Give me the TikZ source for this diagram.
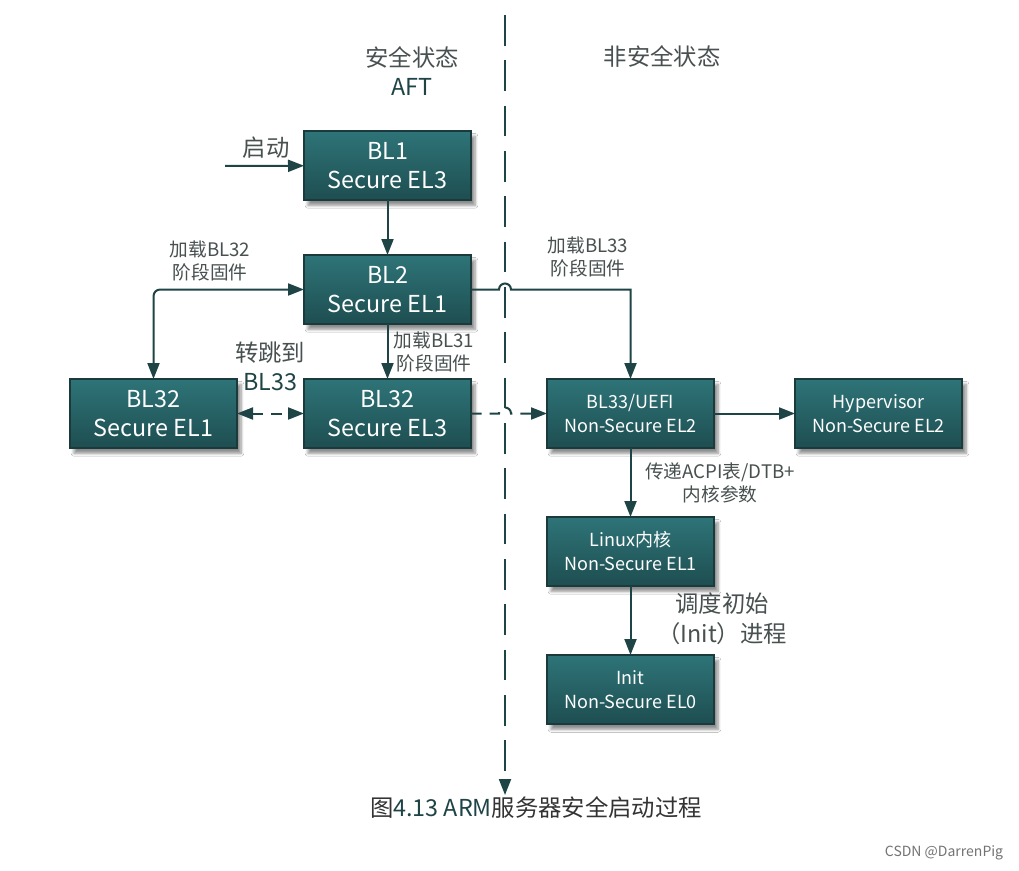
\documentclass[tikz,border=0pt]{standalone}
\usepackage{fontspec}
\setmainfont{Noto Sans CJK SC}
\usetikzlibrary{arrows.meta,positioning,calc,shadows.blur}
\definecolor{ARMTeal}{RGB}{46,116,120}
\definecolor{ARMTealDark}{RGB}{30,78,81}
\definecolor{ARMEdge}{RGB}{26,58,60}
\definecolor{ARMLine}{RGB}{30,68,70}
\definecolor{ARMText}{RGB}{72,80,80}
\tikzset{
  bbox/.style={draw=ARMEdge,line width=1.5pt,top color=ARMTeal,bottom color=ARMTealDark,minimum width=125.25pt,minimum height=51.75pt,inner sep=0pt,outer sep=0pt,align=center,text=white,font=\fontsize{17.5}{21.75}\selectfont,blur shadow={shadow xshift=3pt,shadow yshift=-4pt,shadow blur steps=6,shadow opacity=45}},
  sbox/.style={bbox,font=\fontsize{13.5}{18}\selectfont},
  lbl/.style={text=ARMText,align=center,inner sep=0pt,font=\fontsize{14}{17.25}\selectfont},
  blbl/.style={lbl,font=\fontsize{17.5}{21.75}\selectfont},
  arr/.style={-{Triangle[length=12pt,width=9pt]},ARMLine,line width=1.5pt},
  arrboth/.style={{Triangle[length=12pt,width=9pt]}-{Triangle[length=12pt,width=9pt]},ARMLine,line width=1.5pt},
  darr/.style={arr,dash pattern=on 8pt off 6pt},
  darrboth/.style={arrboth,dash pattern=on 8pt off 6pt},
  divline/.style={arr,dash pattern=on 23pt off 11pt},
}
\begin{document}
\begin{tikzpicture}[x=0.75pt,y=-0.75pt]
  \path[fill=white,use as bounding box] (0,0) rectangle (1019,870);
  % secure / non-secure divider
  \coordinate (divtop) at (505,15);
  \coordinate (divbot) at (505,795);
  \draw[divline] (divtop) -- (divbot);
  \node[blbl] (sec) at (412,71) {安全状态\\\textcolor{ARMLine}{AFT}};
  \node[blbl] (nsec) at (662,57) {非安全状态};
  % secure world
  \node[bbox] (bl1) at (387.5,165.5) {BL1\\Secure EL3};
  \node[bbox,below=41.25pt of bl1] (bl2) {BL2\\Secure EL1};
  \node[bbox,below=41.25pt of bl2] (bl32s) {BL32\\Secure EL3};
  \node[bbox,left=50.25pt of bl32s] (bl32n) {BL32\\Secure EL1};
  % non-secure world
  \node[sbox,right=57pt of bl32s] (uefi) {BL33/UEFI\\Non-Secure EL2};
  \node[sbox,right=60.75pt of uefi] (hyp) {Hypervisor\\Non-Secure EL2};
  \node[sbox,below=51.75pt of uefi] (linux) {Linux内核\\Non-Secure EL1};
  \node[sbox,below=51.75pt of linux] (init) {Init\\Non-Secure EL0};
  % labels
  \coordinate (start) at (225,166);
  \node[blbl] (boot) at (266,148) {启动};
  \node[lbl] (ld32) at (210,261) {加载BL32\\阶段固件};
  \node[lbl] (ld31) at (434,352) {加载BL31\\阶段固件};
  \node[blbl] (jump) at (270,366) {转跳到\\\textcolor{ARMLine}{BL33}};
  \node[lbl] (ld33) at (588,257) {加载BL33\\阶段固件};
  \node[lbl] (pass) at (720,483) {传递ACPI表/DTB+\\内核参数};
  \node[blbl,font=\fontsize{17.5}{22.5}\selectfont] (sched) at (722,619) {调度初始\\（Init）进程};
  % connectors
  \coordinate (hopA) at (bl2.east -| divtop);
  \coordinate (hopB) at (bl32s.east -| divtop);
  \draw[arr] (start) -- (bl1);
  \draw[arr] (bl1) -- (bl2);
  \draw[arr] (bl2) -- (bl32s);
  \draw[arrboth,rounded corners=5pt] (bl32n.north) |- (bl2.west);
  \draw[darrboth] (bl32n) -- (bl32s);
  \draw[darr] (bl32s.east) -- ($(hopB)+(-6,0)$) arc[start angle=180,end angle=0,radius=4.5pt] -- (uefi.west);
  \draw[arr] (bl2.east) -- ($(hopA)+(-6,0)$) arc[start angle=180,end angle=0,radius=4.5pt] -- (bl2.east -| uefi.north) [rounded corners=5pt] -- (uefi.north);
  \draw[arr] (uefi) -- (hyp);
  \draw[arr] (uefi) -- (linux);
  \draw[arr] (linux) -- (init);
  % caption
  \node[blbl,text=black!80] (cap) at (536,808) {图\textcolor{ARMLine}{4.13 ARM}服务器安全启动过程};
  \node[lbl,text=black!55,font=\fontsize{10.5}{12}\selectfont] (mark) at (944,853) {CSDN @DarrenPig};
\end{tikzpicture}
\end{document}
